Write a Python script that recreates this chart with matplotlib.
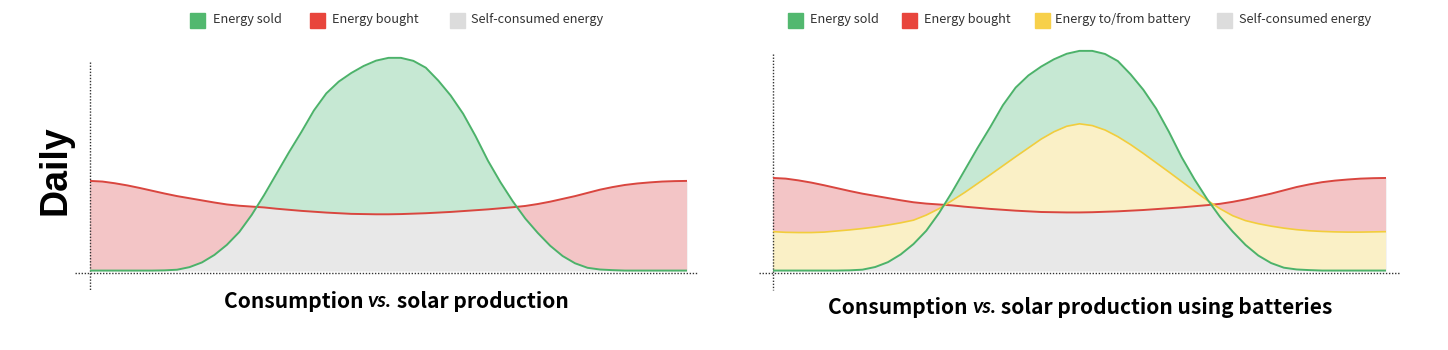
import numpy as np
import matplotlib
matplotlib.use("Agg")
import matplotlib.pyplot as plt
from matplotlib.patches import Rectangle

plt.rcParams["font.family"] = ["Noto Sans CJK SC", "DejaVu Sans"]

# time of day, every half hour
hours = [h / 2 for h in range(49)]
# consumption (red line)
consumption = [4.21, 4.18, 4.10, 4.00, 3.88, 3.75, 3.62, 3.50, 3.40, 3.30, 3.20, 3.11, 3.05,
               3.01, 2.97, 2.91, 2.86, 2.81, 2.77, 2.73, 2.70, 2.67, 2.66, 2.65, 2.65,
               2.66, 2.68, 2.70, 2.73, 2.76, 2.80, 2.84, 2.88, 2.93, 2.98, 3.04, 3.13,
               3.24, 3.37, 3.50, 3.65, 3.80, 3.92, 4.02, 4.09, 4.14, 4.18, 4.20, 4.21]
# solar production (green line)
production = [0.02, 0.02, 0.02, 0.02, 0.02, 0.02, 0.03, 0.06, 0.18, 0.40, 0.75, 1.22, 1.82,
              2.62, 3.55, 4.55, 5.55, 6.50, 7.50, 8.30, 8.85, 9.25, 9.58, 9.83, 9.96,
              9.96, 9.82, 9.50, 8.90, 8.20, 7.35, 6.30, 5.15, 4.15, 3.25, 2.45, 1.78,
              1.18, 0.70, 0.36, 0.15, 0.07, 0.04, 0.02, 0.02, 0.02, 0.02, 0.02, 0.02]
# battery line (yellow)
battery = [1.78, 1.75, 1.74, 1.74, 1.76, 1.81, 1.86, 1.92, 1.99, 2.08, 2.18, 2.30, 2.53,
           2.82, 3.18, 3.55, 3.95, 4.35, 4.76, 5.17, 5.57, 5.97, 6.30, 6.55, 6.66,
           6.58, 6.38, 6.08, 5.72, 5.32, 4.90, 4.48, 4.05, 3.62, 3.20, 2.82, 2.50,
           2.28, 2.14, 2.03, 1.94, 1.87, 1.82, 1.79, 1.77, 1.76, 1.76, 1.77, 1.78]

legend_left = ["Energy sold", "Energy bought", "Self-consumed energy"]
legend_right = ["Energy sold", "Energy bought", "Energy to/from battery", "Self-consumed energy"]

GREEN, GREEN_F = "#4cb26a", "#c6e8d3"
RED, RED_F = "#d9463f", "#f3c5c6"
YEL, YEL_F = "#f2cd3c", "#faf0c6"
GREY_F = "#e8e8e8"
PATCH = {"Energy sold": "#52b86f", "Energy bought": "#e8453c",
         "Energy to/from battery": "#f7d04a", "Self-consumed energy": "#dcdcdc"}

W, H = 1448, 350
fig = plt.figure(figsize=(W / 100, H / 100), dpi=100)

x = np.array(hours)
c = np.array(consumption)
p = np.array(production)
b = np.array(battery)


def make_ax(x0, x1, scale):
    # value 0 sits at pixel row 271, scale in px per unit
    ylo, yhi = -0.5, 10.2
    pb = 271 - ylo * scale
    pt = 271 - yhi * scale
    ax = fig.add_axes([x0 / W, (H - pb) / H, (x1 - x0) / W, (pb - pt) / H])
    ax.set_xlim(0, 24)
    ax.set_ylim(ylo, yhi)
    ax.axis("off")
    return ax


def dotted_axes(ax, ytop, xl, xr):
    ax.plot([0, 0], [ytop, -0.88], ls=(0, (1, 1.2)), color="#333333", lw=1, clip_on=False)
    ax.plot([xl, xr], [-0.09, -0.09], ls=(0, (1, 1.2)), color="#333333", lw=1, clip_on=False)


# left panel
axl = make_ax(90, 687, 21.4)
axl.fill_between(x, 0, c, color=GREY_F, lw=0)
axl.fill_between(x, p, c, where=c >= p, interpolate=True, color=RED_F, lw=0)
axl.fill_between(x, c, p, where=p >= c, interpolate=True, color=GREEN_F, lw=0)
dotted_axes(axl, 9.77, -0.6, 24.4)
axl.plot(x, c, color=RED, lw=1.4)
axl.plot(x, p, color=GREEN, lw=1.4)

# right panel
axr = make_ax(773, 1386, 22.1)
axr.fill_between(x, 0, c, color=GREY_F, lw=0)
axr.fill_between(x, b, c, where=c >= b, interpolate=True, color=RED_F, lw=0)
axr.fill_between(x, p, b, where=b >= p, interpolate=True, color=YEL_F, lw=0)
axr.fill_between(x, c, b, where=b >= c, interpolate=True, color=YEL_F, lw=0)
axr.fill_between(x, b, p, where=p >= b, interpolate=True, color=GREEN_F, lw=0)
dotted_axes(axr, 9.8, -0.53, 24.5)
axr.plot(x, c, color=RED, lw=1.4)
axr.plot(x, b, color=YEL, lw=1.2)
axr.plot(x, p, color=GREEN, lw=1.4)


# legends, laid out in pixels
def legend(labels, patch_x, text_x):
    for lab, px, tx in zip(labels, patch_x, text_x):
        fig.patches.append(Rectangle((px / W, 1 - 28 / H), 15 / W, 15 / H,
                                     transform=fig.transFigure, color=PATCH[lab]))
        fig.text(tx / W, 1 - 20 / H, lab, fontsize=9.2, color="#333333", va="center")

legend(legend_left, [190, 310, 450], [213, 332, 471])
legend(legend_right, [788, 902, 1035, 1217], [810, 924, 1055, 1239])

fig.text(55 / W, 1 - 170 / H, "Daily", rotation=90, fontsize=27, fontweight="bold",
         family="Liberation Sans", ha="center", va="center")

renderer = fig.canvas.get_renderer()


def title(xc, yc, after):
    parts = [("Consumption ", dict(family=["Noto Sans CJK SC"], weight="bold")),
             ("vs.", dict(family=["Lato"], style="italic", weight="bold")),
             (" " + after, dict(family=["Noto Sans CJK SC"], weight="bold"))]
    objs = [fig.text(0, 1 - yc / H, s, fontsize=15.1, va="center", **kw) for s, kw in parts]
    widths = [o.get_window_extent(renderer).width for o in objs]
    xpos = xc - sum(widths) / 2
    for o, w in zip(objs, widths):
        o.set_x(xpos / W)
        xpos += w

title(396, 301, "solar production")
title(1080, 307, "solar production using batteries")

fig.savefig("out.png", dpi=100, facecolor="white")
